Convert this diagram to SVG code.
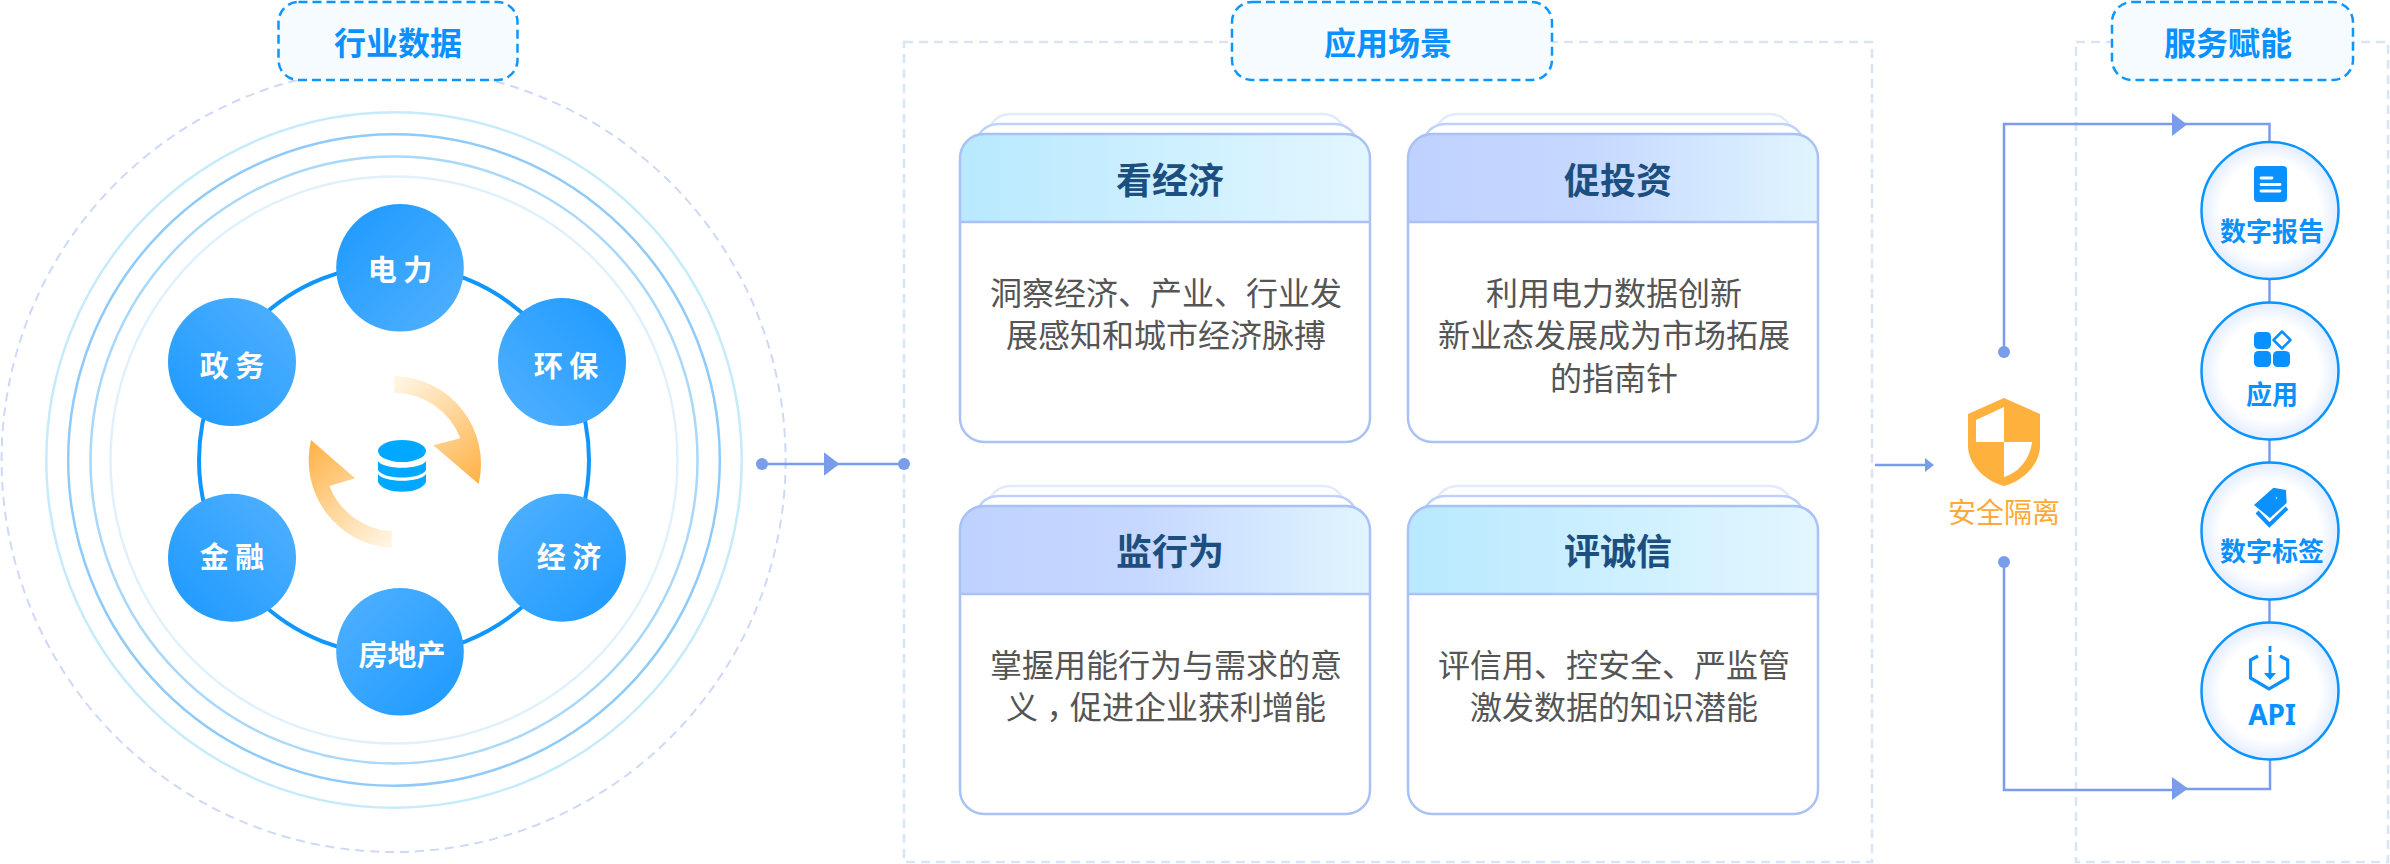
<svg xmlns="http://www.w3.org/2000/svg" width="2390" height="864" viewBox="0 0 2390 864">
<style>
text{font-family:"Noto Sans CJK SC","Liberation Sans",sans-serif;text-anchor:middle}
.badge rect{fill:#f6fbff;stroke:#0e96ff;stroke-width:2.5;stroke-dasharray:9 5}
.badge text{font-size:32px;font-weight:700;fill:#0a90ff}
.frame{fill:none;stroke:#d9e5f4;stroke-width:2.5;stroke-dasharray:9 6}
.ring{fill:none;stroke-width:2.5}
.hub text{font-size:29px;font-weight:700;fill:#fff}
.card .b1{fill:#fff;stroke:#e2ebfd;stroke-width:2.5}
.card .b2{fill:#fff;stroke:#c0d2f9;stroke-width:2.5}
.card .body{fill:#fff}
.card .edge{fill:none;stroke:#a9c1f5;stroke-width:2.5}
.card .title{font-size:36px;font-weight:700;fill:#1c4f80}
.card .txt{font-size:32px;fill:#555}
.svc circle{fill:url(#svcFill);stroke:#0a94ff;stroke-width:2.5}
.svc text{font-size:26px;font-weight:700;fill:#0a90ff}
.svc .ic{fill:#0a90ff}
.ln{fill:none;stroke:#7a9deb;stroke-width:2.5}
.dot,.head{fill:#7a9deb}
</style>
<defs>
<linearGradient id="gTL" x1="0" y1="0" x2="1" y2="1"><stop offset="0" stop-color="#1b99ff"/><stop offset="1" stop-color="#52b1ff"/></linearGradient>
<linearGradient id="gBR" x1="1" y1="1" x2="0" y2="0"><stop offset="0" stop-color="#1b99ff"/><stop offset="1" stop-color="#52b1ff"/></linearGradient>
<linearGradient id="gTR" x1="1" y1="0" x2="0" y2="1"><stop offset="0" stop-color="#1b99ff"/><stop offset="1" stop-color="#52b1ff"/></linearGradient>
<linearGradient id="gBL" x1="0" y1="1" x2="1" y2="0"><stop offset="0" stop-color="#1b99ff"/><stop offset="1" stop-color="#52b1ff"/></linearGradient>
<linearGradient id="hdA" x1="0" y1="0" x2="1" y2="0"><stop offset="0" stop-color="#b8e9ff"/><stop offset="1" stop-color="#e2f6ff"/></linearGradient>
<linearGradient id="hdB" x1="0" y1="0" x2="1" y2="0"><stop offset="0" stop-color="#bfd2ff"/><stop offset="0.45" stop-color="#c6d8ff"/><stop offset="1" stop-color="#e0f5ff"/></linearGradient>
<radialGradient id="svcFill" cx="0.5" cy="0.5" r="0.5"><stop offset="0.72" stop-color="#fff"/><stop offset="1" stop-color="#e3edff"/></radialGradient>
<linearGradient id="arU" gradientUnits="userSpaceOnUse" x1="478" y1="484" x2="394" y2="384"><stop offset="0" stop-color="#ffb145"/><stop offset="1" stop-color="#fff5e2"/></linearGradient>
<linearGradient id="arL" gradientUnits="userSpaceOnUse" x1="311" y1="440" x2="392" y2="540"><stop offset="0" stop-color="#ffb145"/><stop offset="1" stop-color="#fff5e2"/></linearGradient>
</defs>

<g id="backdrop">
<circle cx="393.6" cy="460" r="392" fill="none" stroke="#cdd9f7" stroke-width="2" stroke-dasharray="9 6"/>
<circle class="ring" cx="394" cy="460" r="347.700" stroke="#c6ebfb"/>
<circle class="ring" cx="394" cy="460" r="325.800" stroke="#8ecbfa"/>
<circle class="ring" cx="394" cy="460" r="303.500" stroke="#a9d8fb"/>
<circle class="ring" cx="394" cy="460" r="283.500" stroke="#e0f1fd"/>
<rect class="frame" x="904" y="42" width="968" height="820"/>
<rect class="frame" x="2076" y="42" width="312" height="820"/>
</g>

<g id="connectors">
<circle cx="394" cy="460" r="195" fill="none" stroke="#0f96ff" stroke-width="4"/>
<path class="ln" d="M762 464H904"/>
<path class="head" d="M824 452.300L839.500 464L824 475.700Z"/>
<circle class="dot" cx="762" cy="464" r="6"/>
<circle class="dot" cx="904" cy="464" r="6"/>
<path class="ln" d="M1875 465H1928"/>
<path class="head" d="M1925 458L1934 465L1925 472Z"/>
<path class="ln" d="M2004 352V124H2269.500V691"/>
<path class="head" d="M2172 113L2187 124.500L2172 136Z"/>
<circle class="dot" cx="2004" cy="352" r="6"/>
<path class="ln" d="M2004 562V790H2172M2180 789H2270V750"/>
<path class="head" d="M2172 777L2188 788.500L2172 800Z"/>
<circle class="dot" cx="2004" cy="562" r="6"/>
</g>

<g id="badge-industry" class="badge"><rect x="278.500" y="2" width="239" height="78" rx="20"/><text x="398" y="55">行业数据</text></g>
<g id="badge-scene" class="badge"><rect x="1232" y="2" width="320" height="78" rx="20"/><text x="1388" y="55">应用场景</text></g>
<g id="badge-service" class="badge"><rect x="2112" y="2" width="241" height="78" rx="20"/><text x="2228" y="55">服务赋能</text></g>

<g id="center-hub">
<path fill="url(#arU)" d="M394.300 376A88 88 0 0 1 478.700 484L433.300 445.300L460.300 438.300A71 71 0 0 0 394.300 392.700Z"/>
<path fill="url(#arL)" d="M311 440L355 478.300L329.300 486A71.500 71.500 0 0 0 391.700 531.300V548A88 88 0 0 1 311 440Z"/>
<g fill="#00a8ff">
<ellipse cx="402" cy="451" rx="24" ry="11"/>
<path d="M378 461C383 470 421 470 426 461V470C421 480 383 480 378 470Z"/>
<path d="M378 474C383 483 421 483 426 474V482C421 495 383 495 378 482Z"/>
</g>
</g>

<g id="hub-power" class="hub"><circle cx="400" cy="267.800" r="63.800" fill="url(#gTL)"/><text x="400" y="281">电 力</text></g>
<g id="hub-env" class="hub"><circle cx="562" cy="362" r="64" fill="url(#gTR)"/><text x="566" y="377">环 保</text></g>
<g id="hub-econ" class="hub"><circle cx="562" cy="557.700" r="64" fill="url(#gBR)"/><text x="569" y="568">经 济</text></g>
<g id="hub-estate" class="hub"><circle cx="400" cy="651.800" r="63.800" fill="url(#gBR)"/><text x="402" y="665.500">房地产</text></g>
<g id="hub-finance" class="hub"><circle cx="232" cy="557.700" r="64" fill="url(#gBL)"/><text x="232" y="568">金 融</text></g>
<g id="hub-gov" class="hub"><circle cx="232" cy="362" r="64" fill="url(#gBL)"/><text x="232" y="377">政 务</text></g>

<g id="card-economy" class="card">
<rect class="b1" x="988" y="114" width="357" height="60" rx="22"/>
<rect class="b2" x="976" y="124" width="381" height="60" rx="22"/>
<rect class="body" x="960" y="134" width="410" height="308" rx="24"/>
<path fill="url(#hdA)" d="M960 222V158A24 24 0 0 1 984 134H1346A24 24 0 0 1 1370 158V222Z"/>
<rect class="edge" x="960" y="134" width="410" height="308" rx="24"/><path class="edge" d="M960 222H1370"/>
<text class="title" x="1170" y="194">看经济</text>
<text class="txt" x="1166" y="305">洞察经济、产业、行业发</text>
<text class="txt" x="1166" y="347">展感知和城市经济脉搏</text>
</g>
<g id="card-invest" class="card">
<rect class="b1" x="1435" y="114" width="357" height="60" rx="22"/>
<rect class="b2" x="1423" y="124" width="381" height="60" rx="22"/>
<rect class="body" x="1408" y="134" width="410" height="308" rx="24"/>
<path fill="url(#hdB)" d="M1408 222V158A24 24 0 0 1 1432 134H1794A24 24 0 0 1 1818 158V222Z"/>
<rect class="edge" x="1408" y="134" width="410" height="308" rx="24"/><path class="edge" d="M1408 222H1818"/>
<text class="title" x="1618" y="194">促投资</text>
<text class="txt" x="1614" y="305">利用电力数据创新</text>
<text class="txt" x="1614" y="347">新业态发展成为市场拓展</text>
<text class="txt" x="1614" y="390">的指南针</text>
</g>
<g id="card-monitor" class="card">
<rect class="b1" x="988" y="486" width="357" height="60" rx="22"/>
<rect class="b2" x="976" y="496" width="381" height="60" rx="22"/>
<rect class="body" x="960" y="506" width="410" height="308" rx="24"/>
<path fill="url(#hdB)" d="M960 594V530A24 24 0 0 1 984 506H1346A24 24 0 0 1 1370 530V594Z"/>
<rect class="edge" x="960" y="506" width="410" height="308" rx="24"/><path class="edge" d="M960 594H1370"/>
<text class="title" x="1170" y="565">监行为</text>
<text class="txt" x="1166" y="677">掌握用能行为与需求的意</text>
<text class="txt" x="1166" y="719">义<tspan dy="9" style="font-family:'Noto Sans CJK TC','Liberation Sans',sans-serif">，</tspan><tspan dy="-9">促进企业获利增能</tspan></text>
</g>
<g id="card-credit" class="card">
<rect class="b1" x="1435" y="486" width="357" height="60" rx="22"/>
<rect class="b2" x="1423" y="496" width="381" height="60" rx="22"/>
<rect class="body" x="1408" y="506" width="410" height="308" rx="24"/>
<path fill="url(#hdA)" d="M1408 594V530A24 24 0 0 1 1432 506H1794A24 24 0 0 1 1818 530V594Z"/>
<rect class="edge" x="1408" y="506" width="410" height="308" rx="24"/><path class="edge" d="M1408 594H1818"/>
<text class="title" x="1618" y="565">评诚信</text>
<text class="txt" x="1614" y="677">评信用、控安全、严监管</text>
<text class="txt" x="1614" y="719">激发数据的知识潜能</text>
</g>

<g id="isolation">
<path fill="#ffb13e" d="M2004 398L2040 414V446C2040 462 2026 480 2004 486C1982 480 1968 462 1968 446V414Z"/>
<path fill="#fff" d="M2004 407L1976 420V442H2004ZM2004 442H2032C2030 458 2020 472 2004 477Z"/>
<text x="2004" y="523" font-size="28" fill="#ffa938">安全隔离</text>
</g>

<g id="svc-report" class="svc"><circle cx="2270" cy="210.500" r="68.500"/>
<rect class="ic" x="2254" y="166" width="33" height="36" rx="4"/><path d="M2261 178H2272M2261 184.500H2280M2261 191H2280" stroke="#fff" stroke-width="2.800" stroke-linecap="round" fill="none"/>
<text x="2272" y="241">数字报告</text></g>
<g id="svc-app" class="svc"><circle cx="2270" cy="371" r="68.500"/>
<rect class="ic" x="2254" y="332" width="17" height="17" rx="4.500"/><rect class="ic" x="2254" y="351" width="17" height="16" rx="4.500"/><rect class="ic" x="2273" y="351" width="17" height="16" rx="4.500"/>
<path d="M2282 331.500L2290.500 340L2282 348.500L2273.500 340Z" fill="#fff" stroke="#0a90ff" stroke-width="2.500" stroke-linejoin="round"/>
<text x="2272" y="404">应用</text></g>
<g id="svc-tag" class="svc"><circle cx="2270" cy="531" r="68.500"/>
<path class="ic" d="M2273.500 487.700L2286 490L2286.600 503L2270 518L2254 505Z"/><circle cx="2276.500" cy="498" r="2" fill="#fff" stroke="none"/>
<path d="M2257 512L2269.400 525L2287 508" fill="none" stroke="#0a90ff" stroke-width="4"/>
<text x="2272" y="561">数字标签</text></g>
<g id="svc-api" class="svc"><circle cx="2270" cy="691" r="68.500"/>
<path d="M2258 656L2250.500 660V678L2269 689L2287.700 678V660L2280 656" fill="none" stroke="#0a90ff" stroke-width="3.200"/>
<path d="M2270 646V652M2270 655V675" stroke="#0a90ff" stroke-width="2.800" fill="none"/><path class="ic" d="M2264 673H2276L2270 680Z"/>
<text x="2272" y="725" style="font-family:'Noto Sans','Liberation Sans',sans-serif;font-size:28px">API</text></g>
</svg>
